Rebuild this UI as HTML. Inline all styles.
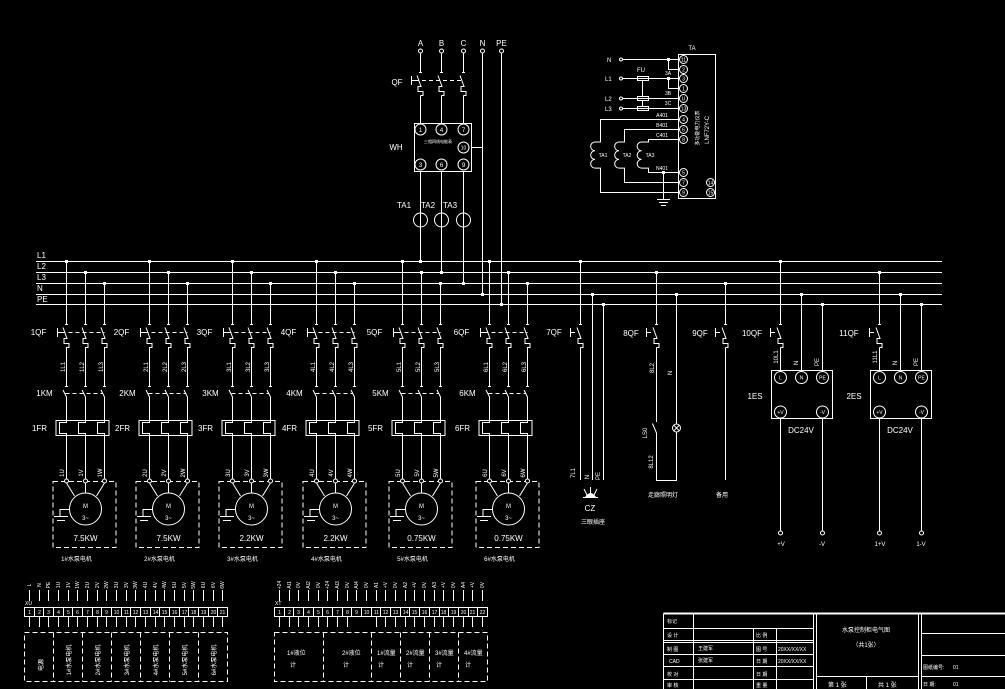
<!DOCTYPE html>
<html><head><meta charset="utf-8">
<style>
html,body{margin:0;padding:0;background:#000;}
svg{display:block}
text{fill:#fff;font-family:"Liberation Sans","Noto Sans CJK SC",sans-serif;font-size:8px}
.s{font-size:6px}
.t{font-size:5px}
.m{text-anchor:middle}
</style></head>
<body>
<svg width="1005" height="689" viewBox="0 0 1005 689" xmlns="http://www.w3.org/2000/svg">
<rect width="1005" height="689" fill="#000"/>
<defs>
  <g id="bk" fill="none" stroke="#fff"><path d="M-1.5 0.5H1.5M-3.5 3.5L0.5 14.5H-2.5V19.5H2.5V23.5H0"/></g>
  <g id="grp" fill="none" stroke="#fff">
    <path d="M0 261.5V324.5M-1.5 324.5H1.5M-3.5 327.5L0.5 338.5H-2.5V343.5H2.5V347.5H0V386.5M-1.5 386.5H1.5M-3.5 390L0 397V422.5H-7V433.5H0V479"/>
    <path d="M19 272.5V324.5M17.5 324.5H20.5M15.5 327.5L19.5 338.5H16.5V343.5H21.5V347.5H19V386.5M17.5 386.5H20.5M15.5 390L19 397V422.5H12V433.5H19V479"/>
    <path d="M38 283.5V324.5M36.5 324.5H39.5M34.5 327.5L38.5 338.5H35.5V343.5H40.5V347.5H38V386.5M36.5 386.5H39.5M34.5 390L38 397V422.5H31V433.5H38V479"/>
    <path d="M-9 328V337M-9 332.5H-5"/>
    <path d="M-5 332.5H38" stroke-dasharray="4 3"/>
    <path d="M-1 393.5H36" stroke-dasharray="4 3"/>
    <rect x="-10.5" y="420.5" width="53" height="15"/>
    <rect x="-13.5" y="481.5" width="63" height="66" stroke-dasharray="5 3"/>
    <circle cx="19" cy="509" r="16"/>
    <path d="M0 483L8 496M19 483V493M38 483L30 496"/>
    <path d="M3 509.5H-6.5V516.5M-12.5 516.5H1.5M-9.5 520.5H-1.5"/>
    <circle cx="0" cy="481" r="2" fill="#000"/>
    <circle cx="19" cy="481" r="2" fill="#000"/>
    <circle cx="38" cy="481" r="2" fill="#000"/>
    <rect x="-1.5" y="260" width="3" height="3" fill="#fff" stroke="none"/>
    <rect x="17.5" y="271" width="3" height="3" fill="#fff" stroke="none"/>
    <rect x="36.5" y="282" width="3" height="3" fill="#fff" stroke="none"/>
  </g>
</defs>

<!-- Bus -->
<g fill="none" stroke="#fff">
  <path d="M36 261.5H942M36 272.5H942M36 283.5H942M36 294.5H942M36 304.5H942"/>
</g>
<text x="37" y="258">L1</text>
<text x="37" y="269">L2</text>
<text x="37" y="280">L3</text>
<text x="37" y="291">N</text>
<text x="37" y="302">PE</text>

<!-- Motor groups -->
<use href="#grp" x="66.5" y="0"/>
<use href="#grp" x="149.5" y="0"/>
<use href="#grp" x="232.5" y="0"/>
<use href="#grp" x="316.5" y="0"/>
<use href="#grp" x="402.5" y="0"/>
<use href="#grp" x="489.5" y="0"/>

<!-- group 1 -->
<text class="m" x="38.5" y="335">1QF</text>
<text class="m" x="44.5" y="396">1KM</text>
<text class="m" x="39.5" y="431">1FR</text>
<text class="s m" transform="translate(65,367) rotate(-90)">1L1</text>
<text class="s m" transform="translate(84,367) rotate(-90)">1L2</text>
<text class="s m" transform="translate(103,367) rotate(-90)">1L3</text>
<text class="s m" transform="translate(64,473) rotate(-90)">1U</text>
<text class="s m" transform="translate(83,473) rotate(-90)">1V</text>
<text class="s m" transform="translate(102,473) rotate(-90)">1W</text>
<text class="s m" x="85.5" y="508">M</text>
<text class="s m" x="85.5" y="520">3~</text>
<text class="m" x="85.5" y="541">7.5KW</text>
<text class="s m" x="76.5" y="561">1#水泵电机</text>
<!-- group 2 -->
<text class="m" x="121.5" y="335">2QF</text>
<text class="m" x="127.5" y="396">2KM</text>
<text class="m" x="122.5" y="431">2FR</text>
<text class="s m" transform="translate(148,367) rotate(-90)">2L1</text>
<text class="s m" transform="translate(167,367) rotate(-90)">2L2</text>
<text class="s m" transform="translate(186,367) rotate(-90)">2L3</text>
<text class="s m" transform="translate(147,473) rotate(-90)">2U</text>
<text class="s m" transform="translate(166,473) rotate(-90)">2V</text>
<text class="s m" transform="translate(185,473) rotate(-90)">2W</text>
<text class="s m" x="168.5" y="508">M</text>
<text class="s m" x="168.5" y="520">3~</text>
<text class="m" x="168.5" y="541">7.5KW</text>
<text class="s m" x="159.5" y="561">2#水泵电机</text>
<!-- group 3 -->
<text class="m" x="204.5" y="335">3QF</text>
<text class="m" x="210.5" y="396">3KM</text>
<text class="m" x="205.5" y="431">3FR</text>
<text class="s m" transform="translate(231,367) rotate(-90)">3L1</text>
<text class="s m" transform="translate(250,367) rotate(-90)">3L2</text>
<text class="s m" transform="translate(269,367) rotate(-90)">3L3</text>
<text class="s m" transform="translate(230,473) rotate(-90)">3U</text>
<text class="s m" transform="translate(249,473) rotate(-90)">3V</text>
<text class="s m" transform="translate(268,473) rotate(-90)">3W</text>
<text class="s m" x="251.5" y="508">M</text>
<text class="s m" x="251.5" y="520">3~</text>
<text class="m" x="251.5" y="541">2.2KW</text>
<text class="s m" x="242.5" y="561">3#水泵电机</text>
<!-- group 4 -->
<text class="m" x="288.5" y="335">4QF</text>
<text class="m" x="294.5" y="396">4KM</text>
<text class="m" x="289.5" y="431">4FR</text>
<text class="s m" transform="translate(315,367) rotate(-90)">4L1</text>
<text class="s m" transform="translate(334,367) rotate(-90)">4L2</text>
<text class="s m" transform="translate(353,367) rotate(-90)">4L3</text>
<text class="s m" transform="translate(314,473) rotate(-90)">4U</text>
<text class="s m" transform="translate(333,473) rotate(-90)">4V</text>
<text class="s m" transform="translate(352,473) rotate(-90)">4W</text>
<text class="s m" x="335.5" y="508">M</text>
<text class="s m" x="335.5" y="520">3~</text>
<text class="m" x="335.5" y="541">2.2KW</text>
<text class="s m" x="326.5" y="561">4#水泵电机</text>
<!-- group 5 -->
<text class="m" x="374.5" y="335">5QF</text>
<text class="m" x="380.5" y="396">5KM</text>
<text class="m" x="375.5" y="431">5FR</text>
<text class="s m" transform="translate(401,367) rotate(-90)">5L1</text>
<text class="s m" transform="translate(420,367) rotate(-90)">5L2</text>
<text class="s m" transform="translate(439,367) rotate(-90)">5L3</text>
<text class="s m" transform="translate(400,473) rotate(-90)">5U</text>
<text class="s m" transform="translate(419,473) rotate(-90)">5V</text>
<text class="s m" transform="translate(438,473) rotate(-90)">5W</text>
<text class="s m" x="421.5" y="508">M</text>
<text class="s m" x="421.5" y="520">3~</text>
<text class="m" x="421.5" y="541">0.75KW</text>
<text class="s m" x="412.5" y="561">5#水泵电机</text>
<!-- group 6 -->
<text class="m" x="461.5" y="335">6QF</text>
<text class="m" x="467.5" y="396">6KM</text>
<text class="m" x="462.5" y="431">6FR</text>
<text class="s m" transform="translate(488,367) rotate(-90)">6L1</text>
<text class="s m" transform="translate(507,367) rotate(-90)">6L2</text>
<text class="s m" transform="translate(526,367) rotate(-90)">6L3</text>
<text class="s m" transform="translate(487,473) rotate(-90)">6U</text>
<text class="s m" transform="translate(506,473) rotate(-90)">6V</text>
<text class="s m" transform="translate(525,473) rotate(-90)">6W</text>
<text class="s m" x="508.5" y="508">M</text>
<text class="s m" x="508.5" y="520">3~</text>
<text class="m" x="508.5" y="541">0.75KW</text>
<text class="s m" x="499.5" y="561">6#水泵电机</text>

<!-- Top incoming + meter -->
<g fill="none" stroke="#fff">
  <path d="M420.5 53V72.5M441.5 53V72.5M463.5 53V72.5"/>
  <use href="#bk" x="420.5" y="72"/>
  <use href="#bk" x="441.5" y="72"/>
  <use href="#bk" x="463.5" y="72"/>
  <path d="M420.5 95.5V123.5M441.5 95.5V123.5M463.5 95.5V123.5"/>
  <path d="M411.5 76V85M411.5 80.5H415"/>
  <path d="M415 80.5H463" stroke-dasharray="4 3"/>
  <path d="M420.5 171.5V261.5M441.5 171.5V272.5M463.5 171.5V283.5M482.5 53V294.5M501.5 53V304.5"/>
  <rect x="414.5" y="123.5" width="57" height="48"/>
  <circle cx="420.5" cy="129.5" r="5.5"/><circle cx="441.5" cy="129.5" r="5.5"/><circle cx="463.5" cy="129.5" r="5.5"/>
  <circle cx="463.5" cy="147.5" r="5.5"/>
  <circle cx="420.5" cy="164.5" r="5.5"/><circle cx="441.5" cy="164.5" r="5.5"/><circle cx="463.5" cy="164.5" r="5.5"/>
  <path d="M471.5 147.5H482.5"/>
  <circle cx="420.5" cy="220" r="7"/><circle cx="441.5" cy="220" r="7"/><circle cx="463.5" cy="220" r="7"/>
  <circle cx="420.5" cy="51" r="2" fill="#000"/><circle cx="441.5" cy="51" r="2" fill="#000"/><circle cx="463.5" cy="51" r="2" fill="#000"/><circle cx="482.5" cy="51" r="2" fill="#000"/><circle cx="501.5" cy="51" r="2" fill="#000"/>
</g>
<g fill="#fff">
  <rect x="419" y="260" width="3" height="3"/><rect x="440" y="271" width="3" height="3"/><rect x="462" y="282" width="3" height="3"/><rect x="481" y="293" width="3" height="3"/><rect x="500" y="303" width="3" height="3"/>
</g>
<text class="m" x="420.5" y="46">A</text>
<text class="m" x="441.5" y="46">B</text>
<text class="m" x="463.5" y="46">C</text>
<text class="m" x="482.5" y="46">N</text>
<text class="m" x="501.5" y="46">PE</text>
<text class="m" x="397" y="85">QF</text>
<text class="m" x="396" y="150">WH</text>
<text class="s m" x="420.5" y="132">1</text><text class="s m" x="441.5" y="132">4</text><text class="s m" x="463.5" y="132">7</text>
<text class="t m" x="463.5" y="149.5">10</text>
<text class="s m" x="420.5" y="167">3</text><text class="s m" x="441.5" y="167">6</text><text class="s m" x="463.5" y="167">9</text>
<text class="m" x="438" y="143" style="font-size:4px">三相四线电能表</text>
<text class="m" x="404" y="208">TA1</text>
<text class="m" x="428" y="208">TA2</text>
<text class="m" x="450" y="208">TA3</text>

<!-- Top right multifunction meter -->
<g fill="none" stroke="#fff">
  <rect x="678.5" y="54.5" width="37" height="144"/>
  <circle cx="683.5" cy="59.5" r="4"/><circle cx="683.5" cy="69.5" r="4"/><circle cx="683.5" cy="78.5" r="4"/><circle cx="683.5" cy="88.5" r="4"/>
  <circle cx="683.5" cy="98.5" r="4"/><circle cx="683.5" cy="108.5" r="4"/><circle cx="683.5" cy="119.5" r="4"/><circle cx="683.5" cy="129.5" r="4"/>
  <circle cx="683.5" cy="139.5" r="4"/><circle cx="683.5" cy="172.5" r="4"/><circle cx="683.5" cy="182.5" r="4"/><circle cx="683.5" cy="192.5" r="4"/>
  <circle cx="710.5" cy="182.5" r="4"/><circle cx="710.5" cy="192.5" r="4"/>
  <circle cx="621" cy="59.5" r="1.5"/><circle cx="621" cy="78.5" r="1.5"/><circle cx="621" cy="98.5" r="1.5"/><circle cx="621" cy="108.5" r="1.5"/>
  <path d="M622.5 59.5H679.5M622.5 78.5H679.5M622.5 98.5H679.5M622.5 108.5H679.5"/>
  <path d="M668.5 59.5V69.5H679.5M668.5 78.5V88.5H679.5"/>
  <rect x="637.5" y="76.5" width="11" height="4"/><rect x="637.5" y="96.5" width="11" height="4"/><rect x="637.5" y="106.5" width="11" height="4"/>
  <path d="M642.5 80.5V96.5M642.5 100.5V106.5"/>
  <path d="M679.5 119.5H600.5V142H595a4.3 4.3 0 0 0 0 8.7a4.3 4.3 0 0 0 0 8.7a4.3 4.3 0 0 0 0 8.7H600.5V192.5H679.5"/>
  <path d="M679.5 129.5H624.5V142H619a4.3 4.3 0 0 0 0 8.7a4.3 4.3 0 0 0 0 8.7a4.3 4.3 0 0 0 0 8.7H624.5V182.5H679.5"/>
  <path d="M679.5 139.5H648.5V142H641.5a4.3 4.3 0 0 0 0 8.7a4.3 4.3 0 0 0 0 8.7a4.3 4.3 0 0 0 0 8.7H648.5V172.5H679.5"/>
  <path d="M663.5 172.5V199M657 199.5H670M659 202.5H668M661 205.5H666"/>
</g>
<rect x="667" y="58" width="3" height="3" fill="#fff"/><rect x="667" y="77" width="3" height="3" fill="#fff"/><rect x="662" y="171" width="3" height="3" fill="#fff"/>
<text class="s" x="607" y="62">N</text>
<text class="s" x="605" y="81">L1</text>
<text class="s" x="605" y="101">L2</text>
<text class="s" x="605" y="111">L3</text>
<text class="s m" x="641" y="72">FU</text>
<text class="t m" x="668" y="75">3A</text>
<text class="t m" x="668" y="95">3B</text>
<text class="t m" x="668" y="105">3C</text>
<text class="t m" x="662" y="117">A401</text>
<text class="t m" x="662" y="127">B401</text>
<text class="t m" x="662" y="137">C401</text>
<text class="t m" x="662" y="170">N401</text>
<text class="t m" x="603" y="157">TA1</text>
<text class="t m" x="627" y="157">TA2</text>
<text class="t m" x="650" y="157">TA3</text>
<text class="s m" x="692" y="50">TA</text>
<text class="t m" x="683.5" y="61.5">11</text><text class="t m" x="683.5" y="71.5">2</text><text class="t m" x="683.5" y="80.5">3</text><text class="t m" x="683.5" y="90.5">1</text>
<text class="t m" x="683.5" y="100.5">U</text><text class="t m" x="683.5" y="110.5">13</text><text class="t m" x="683.5" y="121.5">4</text><text class="t m" x="683.5" y="131.5">6</text>
<text class="t m" x="683.5" y="141.5">8</text><text class="t m" x="683.5" y="174.5">5</text><text class="t m" x="683.5" y="184.5">7</text><text class="t m" x="683.5" y="194.5">9</text>
<text class="t m" x="710.5" y="184.5">14</text><text class="t m" x="710.5" y="194.5">15</text>
<text class="t m" transform="translate(699,128) rotate(-90)">多功能电力仪表</text>
<text class="s m" transform="translate(709,130) rotate(-90)">LNF72Y-C</text>

<!-- Right side branches -->
<g fill="none" stroke="#fff">
  <!-- 7QF -->
  <path d="M580.5 261.5V324.5M580.5 347.5V480M592.5 294.5V480M603.5 304.5V480"/>
  <use href="#bk" x="580.5" y="324"/>
  <path d="M570.5 328V337M570.5 332.5H575"/>
  <path d="M584 489L587 495M590.5 487V494M597 489L594 495M583 497.5H598"/>
  <!-- 8QF -->
  <path d="M656.5 272.5V324.5M656.5 347.5V422M652.5 423.5L656.5 433V480.5H676.5V432M676.5 294.5V424"/>
  <use href="#bk" x="656.5" y="324"/>
  <path d="M646.5 328V337M646.5 332.5H651"/>
  <circle cx="676.5" cy="428" r="4"/>
  <path d="M673.7 425.2L679.3 430.8M679.3 425.2L673.7 430.8"/>
  <!-- 9QF -->
  <path d="M725.5 283.5V324.5M725.5 347.5V480"/>
  <use href="#bk" x="725.5" y="324"/>
  <path d="M715.5 328V337M715.5 332.5H720"/>
  <!-- 10QF -->
  <path d="M780.5 261.5V324.5M780.5 347.5V371.5M801.5 294.5V371.5M822.5 304.5V371.5"/>
  <use href="#bk" x="780.5" y="324"/>
  <path d="M770.5 328V337M770.5 332.5H775"/>
  <rect x="771.5" y="370.5" width="61" height="48"/>
  <circle cx="780.5" cy="377.5" r="6"/><circle cx="801.5" cy="377.5" r="6"/><circle cx="822.5" cy="377.5" r="6"/>
  <circle cx="780.5" cy="412" r="6"/><circle cx="822.5" cy="412" r="6"/>
  <path d="M780.5 418.5V531M822.5 418.5V531"/>
  <circle cx="780.5" cy="533" r="2" fill="#000"/><circle cx="822.5" cy="533" r="2" fill="#000"/>
  <!-- 11QF -->
  <path d="M879.5 272.5V324.5M879.5 347.5V371.5M900.5 294.5V371.5M921.5 304.5V371.5"/>
  <use href="#bk" x="879.5" y="324"/>
  <path d="M869.5 328V337M869.5 332.5H874"/>
  <rect x="870.5" y="370.5" width="61" height="48"/>
  <circle cx="879.5" cy="377.5" r="6"/><circle cx="900.5" cy="377.5" r="6"/><circle cx="921.5" cy="377.5" r="6"/>
  <circle cx="879.5" cy="412" r="6"/><circle cx="921.5" cy="412" r="6"/>
  <path d="M879.5 418.5V531M921.5 418.5V531"/>
  <circle cx="879.5" cy="533" r="2" fill="#000"/><circle cx="921.5" cy="533" r="2" fill="#000"/>
</g>
<path d="M585 497Q590.5 489 596 497Z" fill="#fff"/>
<g fill="#fff">
  <rect x="579" y="260" width="3" height="3"/><rect x="591" y="293" width="3" height="3"/><rect x="602" y="303" width="3" height="3"/>
  <rect x="655" y="271" width="3" height="3"/><rect x="675" y="293" width="3" height="3"/>
  <rect x="724" y="282" width="3" height="3"/>
  <rect x="779" y="260" width="3" height="3"/><rect x="800" y="293" width="3" height="3"/><rect x="821" y="303" width="3" height="3"/>
  <rect x="878" y="271" width="3" height="3"/><rect x="899" y="293" width="3" height="3"/><rect x="920" y="303" width="3" height="3"/>
</g>
<text class="m" x="554" y="335">7QF</text>
<text class="m" x="631" y="336">8QF</text>
<text class="m" x="700" y="336">9QF</text>
<text class="m" x="752" y="336">10QF</text>
<text class="m" x="849" y="336">11QF</text>
<text class="s m" transform="translate(575,473) rotate(-90)">7L1</text>
<text class="s m" transform="translate(589,477) rotate(-90)">N</text>
<text class="s m" transform="translate(600,476) rotate(-90)">PE</text>
<text class="m" x="590" y="511">CZ</text>
<text class="s m" x="593" y="524">三眼插座</text>
<text class="s m" transform="translate(654,368) rotate(-90)">8L2</text>
<text class="s m" transform="translate(672,373) rotate(-90)">N</text>
<text class="s m" transform="translate(647,433) rotate(-90)">LS0</text>
<text class="s m" transform="translate(653,462) rotate(-90)">8L12</text>
<text class="s m" x="663" y="497">走廊照明灯</text>
<text class="s m" x="722" y="497">备用</text>
<text class="s m" transform="translate(778,357) rotate(-90)">10L1</text>
<text class="s m" transform="translate(798,363) rotate(-90)">N</text>
<text class="s m" transform="translate(819,362) rotate(-90)">PE</text>
<text class="t m" x="780.5" y="379.5">L</text><text class="t m" x="801.5" y="379.5">N</text><text class="t m" x="822.5" y="379.5">PE</text>
<text class="t m" x="780.5" y="414">+V</text><text class="t m" x="822.5" y="414">-V</text>
<text class="m" x="755" y="399">1ES</text>
<text class="m" x="801" y="433">DC24V</text>
<text class="s m" x="781" y="546">+V</text>
<text class="s m" x="822" y="546">-V</text>
<text class="s m" transform="translate(877,357) rotate(-90)">11L1</text>
<text class="s m" transform="translate(897,363) rotate(-90)">N</text>
<text class="s m" transform="translate(918,362) rotate(-90)">PE</text>
<text class="t m" x="879.5" y="379.5">L</text><text class="t m" x="900.5" y="379.5">N</text><text class="t m" x="921.5" y="379.5">PE</text>
<text class="t m" x="879.5" y="414">+V</text><text class="t m" x="921.5" y="414">-V</text>
<text class="m" x="854" y="399">2ES</text>
<text class="m" x="900" y="433">DC24V</text>
<text class="s m" x="880" y="546">1+V</text>
<text class="s m" x="921" y="546">1-V</text>

<!-- Terminal strip 1 -->
<g fill="none" stroke="#fff">
  <rect x="24.5" y="607.5" width="203" height="9"/>
  <path d="M34.5 607.5V616.5M43.5 607.5V616.5M53.5 607.5V616.5M63.5 607.5V616.5M72.5 607.5V616.5M82.5 607.5V616.5M92.5 607.5V616.5M101.5 607.5V616.5M111.5 607.5V616.5M121.5 607.5V616.5M130.5 607.5V616.5M140.5 607.5V616.5M150.5 607.5V616.5M159.5 607.5V616.5M169.5 607.5V616.5M179.5 607.5V616.5M188.5 607.5V616.5M198.5 607.5V616.5M208.5 607.5V616.5M217.5 607.5V616.5"/>
  <path d="M29.5 590V601M39.5 590V601M48.5 590V601M58.5 590V601M68.5 590V601M77.5 590V601M87.5 590V601M97.5 590V601M106.5 590V601M116.5 590V601M126.5 590V601M135.5 590V601M145.5 590V601M155.5 590V601M164.5 590V601M174.5 590V601M184.5 590V601M193.5 590V601M203.5 590V601M213.5 590V601M222.5 590V601"/>
  <path d="M29.5 617V627M39.5 617V627M48.5 617V627M58.5 617V627M68.5 617V627M77.5 617V627M87.5 617V627M97.5 617V627M106.5 617V627M116.5 617V627M126.5 617V627M135.5 617V627M145.5 617V627M155.5 617V627M164.5 617V627M174.5 617V627M184.5 617V627M193.5 617V627M203.5 617V627M213.5 617V627M222.5 617V627"/>
  <g stroke-dasharray="5 3">
    <rect x="24.5" y="632.5" width="203" height="49"/>
    <path d="M53.5 632.5V681.5M82.5 632.5V681.5M111.5 632.5V681.5M140.5 632.5V681.5M169.5 632.5V681.5M198.5 632.5V681.5"/>
  </g>
</g>
<text class="t" x="25" y="605">XU</text>
<g class="t">
<text class="t m" x="29.5" y="614">1</text><text class="t m" x="39.5" y="614">2</text><text class="t m" x="48.5" y="614">3</text><text class="t m" x="58.5" y="614">4</text><text class="t m" x="68.5" y="614">5</text><text class="t m" x="77.5" y="614">6</text><text class="t m" x="87.5" y="614">7</text><text class="t m" x="97.5" y="614">8</text><text class="t m" x="106.5" y="614">9</text><text class="t m" x="116.5" y="614">10</text><text class="t m" x="126.5" y="614">11</text><text class="t m" x="135.5" y="614">12</text><text class="t m" x="145.5" y="614">13</text><text class="t m" x="155.5" y="614">14</text><text class="t m" x="164.5" y="614">15</text><text class="t m" x="174.5" y="614">16</text><text class="t m" x="184.5" y="614">17</text><text class="t m" x="193.5" y="614">18</text><text class="t m" x="203.5" y="614">19</text><text class="t m" x="213.5" y="614">20</text><text class="t m" x="222.5" y="614">21</text>
</g>
<text class="t m" transform="translate(31,585) rotate(-90)">L</text>
<text class="t m" transform="translate(41,585) rotate(-90)">N</text>
<text class="t m" transform="translate(50,585) rotate(-90)">PE</text>
<text class="t m" transform="translate(60,585) rotate(-90)">1U</text>
<text class="t m" transform="translate(70,585) rotate(-90)">1V</text>
<text class="t m" transform="translate(79,585) rotate(-90)">1W</text>
<text class="t m" transform="translate(89,585) rotate(-90)">2U</text>
<text class="t m" transform="translate(99,585) rotate(-90)">2V</text>
<text class="t m" transform="translate(108,585) rotate(-90)">2W</text>
<text class="t m" transform="translate(118,585) rotate(-90)">3U</text>
<text class="t m" transform="translate(128,585) rotate(-90)">3V</text>
<text class="t m" transform="translate(137,585) rotate(-90)">3W</text>
<text class="t m" transform="translate(147,585) rotate(-90)">4U</text>
<text class="t m" transform="translate(157,585) rotate(-90)">4V</text>
<text class="t m" transform="translate(166,585) rotate(-90)">4W</text>
<text class="t m" transform="translate(176,585) rotate(-90)">5U</text>
<text class="t m" transform="translate(186,585) rotate(-90)">5V</text>
<text class="t m" transform="translate(195,585) rotate(-90)">5W</text>
<text class="t m" transform="translate(205,585) rotate(-90)">6U</text>
<text class="t m" transform="translate(215,585) rotate(-90)">6V</text>
<text class="t m" transform="translate(224,585) rotate(-90)">6W</text>
<text class="s m" transform="translate(43,665) rotate(-90)">电源</text>
<text class="s m" transform="translate(71,660) rotate(-90)">1#水泵电机</text>
<text class="s m" transform="translate(100,660) rotate(-90)">2#水泵电机</text>
<text class="s m" transform="translate(129,660) rotate(-90)">3#水泵电机</text>
<text class="s m" transform="translate(158,660) rotate(-90)">4#水泵电机</text>
<text class="s m" transform="translate(187,660) rotate(-90)">5#水泵电机</text>
<text class="s m" transform="translate(216,660) rotate(-90)">6#水泵电机</text>

<!-- Terminal strip 2 -->
<g fill="none" stroke="#fff">
  <rect x="274.5" y="607.5" width="213" height="9"/>
  <path d="M284.5 607.5V616.5M293.5 607.5V616.5M303.5 607.5V616.5M313.5 607.5V616.5M322.5 607.5V616.5M332.5 607.5V616.5M342.5 607.5V616.5M351.5 607.5V616.5M361.5 607.5V616.5M371.5 607.5V616.5M380.5 607.5V616.5M390.5 607.5V616.5M400.5 607.5V616.5M409.5 607.5V616.5M419.5 607.5V616.5M429.5 607.5V616.5M439.5 607.5V616.5M448.5 607.5V616.5M458.5 607.5V616.5M468.5 607.5V616.5M477.5 607.5V616.5"/>
  <path d="M279.5 590V601M289.5 590V601M298.5 590V601M308.5 590V601M318.5 590V601M327.5 590V601M337.5 590V601M347.5 590V601M356.5 590V601M366.5 590V601M376.5 590V601M385.5 590V601M395.5 590V601M405.5 590V601M414.5 590V601M424.5 590V601M434.5 590V601M443.5 590V601M453.5 590V601M463.5 590V601M472.5 590V601M482.5 590V601"/>
  <path d="M279.5 617V627M289.5 617V627M298.5 617V627M308.5 617V627M318.5 617V627M327.5 617V627M337.5 617V627M347.5 617V627M376.5 617V627M385.5 617V627M395.5 617V627M405.5 617V627M414.5 617V627M424.5 617V627M434.5 617V627M443.5 617V627M453.5 617V627M463.5 617V627M472.5 617V627M482.5 617V627"/>
  <g stroke-dasharray="5 3">
    <rect x="274.5" y="632.5" width="213" height="49"/>
    <path d="M323.5 632.5V681.5M371.5 632.5V681.5M400.5 632.5V681.5M429.5 632.5V681.5M458.5 632.5V681.5"/>
  </g>
</g>
<text class="t" x="275" y="605">XT</text>
<text class="t m" x="279.5" y="614">1</text><text class="t m" x="289.5" y="614">2</text><text class="t m" x="298.5" y="614">3</text><text class="t m" x="308.5" y="614">4</text><text class="t m" x="318.5" y="614">5</text><text class="t m" x="327.5" y="614">6</text><text class="t m" x="337.5" y="614">7</text><text class="t m" x="347.5" y="614">8</text><text class="t m" x="356.5" y="614">9</text><text class="t m" x="366.5" y="614">10</text><text class="t m" x="376.5" y="614">11</text><text class="t m" x="385.5" y="614">12</text><text class="t m" x="395.5" y="614">13</text><text class="t m" x="405.5" y="614">14</text><text class="t m" x="414.5" y="614">15</text><text class="t m" x="424.5" y="614">16</text><text class="t m" x="434.5" y="614">17</text><text class="t m" x="443.5" y="614">18</text><text class="t m" x="453.5" y="614">19</text><text class="t m" x="463.5" y="614">20</text><text class="t m" x="472.5" y="614">21</text><text class="t m" x="482.5" y="614">22</text>
<text class="t m" transform="translate(281,585) rotate(-90)">+24</text>
<text class="t m" transform="translate(291,585) rotate(-90)">AI1</text>
<text class="t m" transform="translate(300,585) rotate(-90)">0V</text>
<text class="t m" transform="translate(310,585) rotate(-90)">AI2</text>
<text class="t m" transform="translate(320,585) rotate(-90)">0V</text>
<text class="t m" transform="translate(329,585) rotate(-90)">+24</text>
<text class="t m" transform="translate(339,585) rotate(-90)">AI3</text>
<text class="t m" transform="translate(349,585) rotate(-90)">0V</text>
<text class="t m" transform="translate(358,585) rotate(-90)">AI4</text>
<text class="t m" transform="translate(368,585) rotate(-90)">0V</text>
<text class="t m" transform="translate(378,585) rotate(-90)">A1</text>
<text class="t m" transform="translate(387,585) rotate(-90)">+V</text>
<text class="t m" transform="translate(397,585) rotate(-90)">0V</text>
<text class="t m" transform="translate(407,585) rotate(-90)">A2</text>
<text class="t m" transform="translate(416,585) rotate(-90)">+V</text>
<text class="t m" transform="translate(426,585) rotate(-90)">0V</text>
<text class="t m" transform="translate(436,585) rotate(-90)">A3</text>
<text class="t m" transform="translate(445,585) rotate(-90)">+V</text>
<text class="t m" transform="translate(455,585) rotate(-90)">0V</text>
<text class="t m" transform="translate(465,585) rotate(-90)">A4</text>
<text class="t m" transform="translate(474,585) rotate(-90)">+V</text>
<text class="t m" transform="translate(484,585) rotate(-90)">0V</text>
<text class="s" x="287" y="655">1#液位</text><text class="s" x="290" y="667">计</text>
<text class="s" x="342" y="655">2#液位</text><text class="s" x="343" y="667">计</text>
<text class="s" x="377" y="655">1#流量</text><text class="s" x="378" y="667">计</text>
<text class="s" x="406" y="655">2#流量</text><text class="s" x="407" y="667">计</text>
<text class="s" x="435" y="655">3#流量</text><text class="s" x="436" y="667">计</text>
<text class="s" x="464" y="655">4#流量</text><text class="s" x="465" y="667">计</text>

<!-- Title block -->
<g fill="none" stroke="#fff">
  <path d="M663.5 613.5H1005" stroke-width="2"/>
  <path d="M663.5 613.5V689M693.5 613.5V689M753.5 628.5V689M776.5 628.5V689"/>
  <path d="M663.5 628.5H813.5M663.5 640.5H813.5M663.5 642.5H813.5M663.5 654.5H813.5M663.5 666.5H813.5M663.5 679.5H813.5"/>
  <path d="M813.5 613.5V689M816.5 613.5V689M918.5 613.5V689M921.5 613.5V689"/>
  <path d="M816.5 676.5H918.5M866.5 676.5V689"/>
  <path d="M921.5 633.5H1005M921.5 655.5H1005M921.5 676.5H1005"/>
</g>
<text class="t" x="667" y="623">标记</text>
<text class="t" x="667" y="637">设 计</text>
<text class="t" x="667" y="651">制 图</text>
<text class="t" x="669" y="663">CAD</text>
<text class="t" x="667" y="676">校 对</text>
<text class="t" x="667" y="687">审 核</text>
<text class="t" x="698" y="650">王建军</text>
<text class="t" x="698" y="662">张建军</text>
<text class="t" x="756" y="637">比 例</text>
<text class="t" x="756" y="651">图 号</text>
<text class="t" x="756" y="663">日 期</text>
<text class="t" x="756" y="676">日 期</text>
<text class="t" x="756" y="687">重 量</text>
<text class="t" x="778" y="651">20XX/XX/XX</text>
<text class="t" x="778" y="663">20XX/XX/XX</text>
<text class="s m" x="866" y="632">水泵控制柜电气图</text>
<text class="s m" x="866" y="647">（共1张）</text>
<text class="s" x="828" y="687">第 1 张</text>
<text class="s" x="878" y="687">共 1 张</text>
<text class="t" x="923" y="669">图纸编号:</text>
<text class="t" x="953" y="669">01</text>
<text class="t" x="923" y="686">日 期:</text>
<text class="t" x="953" y="686">01</text>
</svg>
</body></html>
